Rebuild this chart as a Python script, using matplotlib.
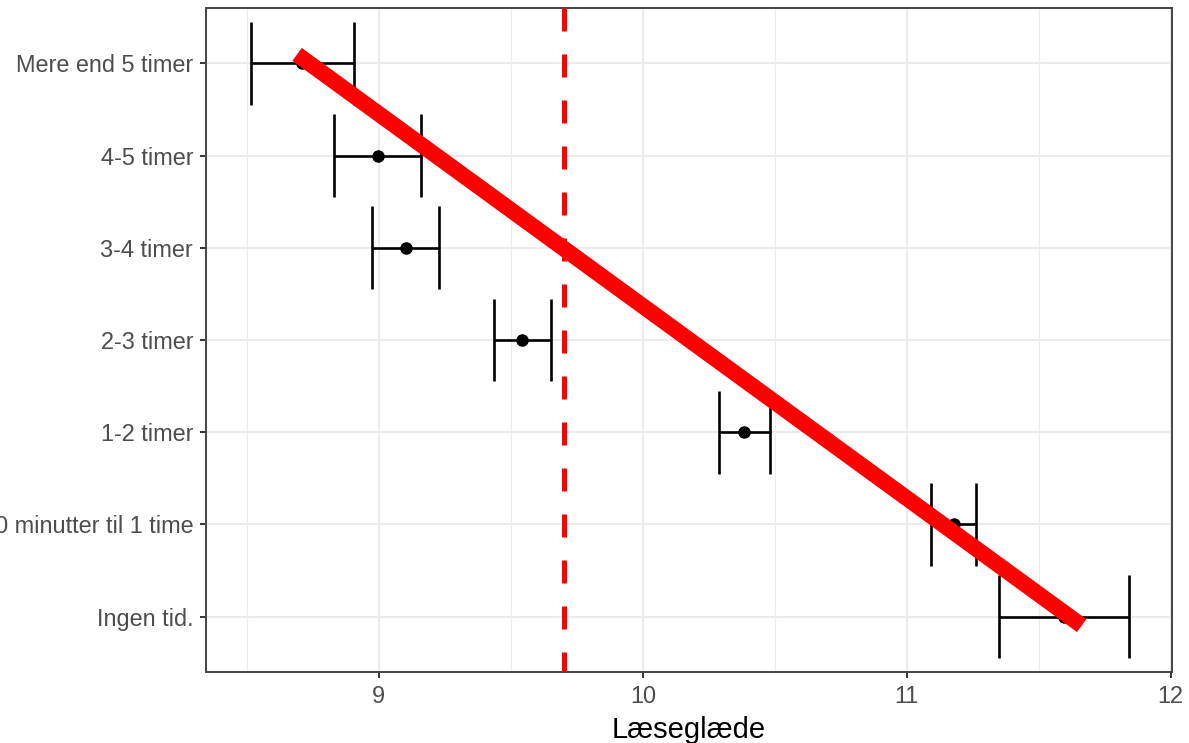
import matplotlib
matplotlib.use("Agg")
import matplotlib.pyplot as plt

# Reading time groups (bottom to top) and their reading joy estimates
categories = ["Ingen tid.", "30 minutter til 1 time", "1-2 timer", "2-3 timer",
              "3-4 timer", "4-5 timer", "Mere end 5 timer"]
means = [11.595, 11.179, 10.385, 9.541, 9.101, 8.995, 8.71]
lower = [11.349, 11.093, 10.290, 9.435, 8.975, 8.830, 8.515]
upper = [11.841, 11.261, 10.483, 9.651, 9.227, 9.158, 8.905]

overall_mean = 9.70
trend_x = [8.69, 11.663]
trend_y = [7.097, 0.903]

plt.rcParams["font.family"] = ["Liberation Sans", "DejaVu Sans"]

fig = plt.figure(figsize=(11.89, 7.43), dpi=100)
ax = fig.add_axes([0.1733, 0.0956, 0.9857 - 0.1733, 0.9892 - 0.0956])

ypos = list(range(1, len(categories) + 1))

# grid like theme_bw
for x in [8.5, 9.5, 10.5, 11.5]:
    ax.axvline(x, color="#EBEBEB", lw=0.8, zorder=0)
for x in [9, 10, 11, 12]:
    ax.axvline(x, color="#EBEBEB", lw=1.5, zorder=0)
for y in ypos:
    ax.axhline(y, color="#EBEBEB", lw=1.5, zorder=0)

# error bars
ax.hlines(ypos, lower, upper, color="black", lw=1.9, zorder=2)
ax.vlines(lower, [y - 0.45 for y in ypos], [y + 0.45 for y in ypos],
          color="black", lw=1.9, zorder=2)
ax.vlines(upper, [y - 0.45 for y in ypos], [y + 0.45 for y in ypos],
          color="black", lw=1.9, zorder=2)
ax.plot(means, ypos, "o", color="black", markersize=8, zorder=3)

# overall mean, dashes starting from the top like ggplot
ax.plot([overall_mean, overall_mean], [1, 0], transform=ax.get_xaxis_transform(),
        color="#FF0000", lw=3.6, linestyle=(0, (4.6, 4.6)), zorder=4)

# trend line
ax.plot(trend_x, trend_y, color="#FF0000", lw=11.5, solid_capstyle="butt", zorder=5)

ax.set_xlim(8.345, 12.005)
ax.set_ylim(0.4, 7.6)
ax.set_xticks([9, 10, 11, 12])
ax.set_xticklabels(["9", "10", "11", "12"])
ax.set_yticks(ypos)
ax.set_yticklabels(categories)

ax.tick_params(axis="both", colors="#333333", length=4.3, width=1.4,
               labelsize=16.9, labelcolor="#4D4D4D", pad=5)
for s in ax.spines.values():
    s.set_color("#444444")
    s.set_linewidth(1.4)

ax.set_xlabel("Læseglæde", fontsize=21, color="black", labelpad=6)

fig.savefig("out.png", dpi=100)
plt.close(fig)
